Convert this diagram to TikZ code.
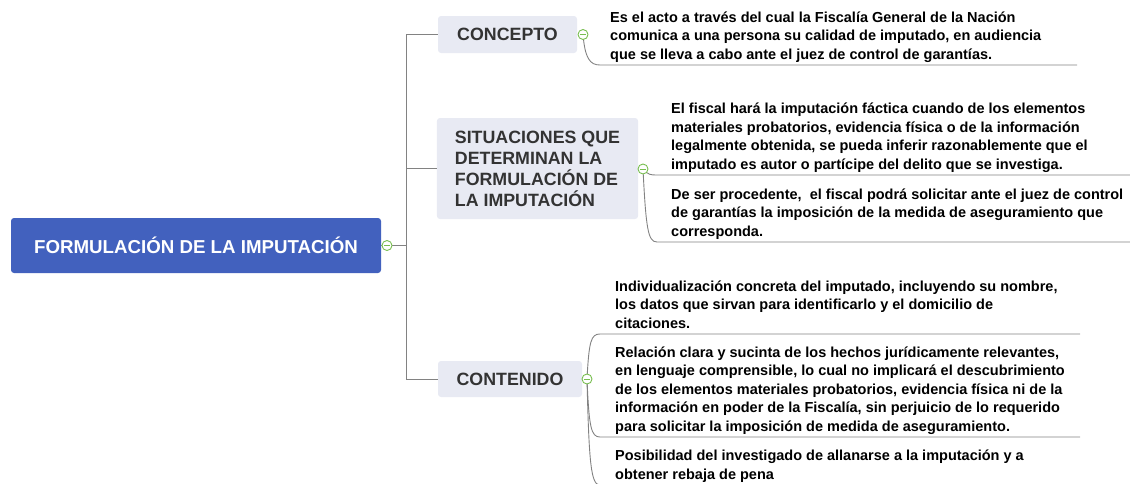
\documentclass[tikz,border=0pt]{standalone}
\usepackage{fontspec}
\setmainfont{Liberation Sans}
\definecolor{rootblue}{RGB}{66,97,190}
\definecolor{branchfill}{RGB}{232,234,243}
\definecolor{branchtext}{RGB}{51,51,51}
\definecolor{linkgray}{RGB}{130,130,130}
\definecolor{markgreen}{RGB}{120,190,80}

\begin{document}
\begin{tikzpicture}[x=1pt, y=-1pt,
    rootbox/.style={rectangle, rounded corners=3pt, fill=rootblue, text=white,
        minimum width=370, minimum height=55, font=\fontsize{18.7}{22}\selectfont\bfseries},
    branch/.style={rectangle, rounded corners=3pt, fill=branchfill, text=branchtext,
        inner xsep=18, align=left, font=\fontsize{17.8}{21}\selectfont\bfseries},
    leaf/.style={anchor=south west, inner xsep=#1, inner ysep=0, align=left,
        font=\fontsize{14.5}{18.5}\selectfont\bfseries},
    link/.style={draw=linkgray, line width=0.9pt},
    marker/.style={circle, draw=markgreen, fill=white, line width=0.9pt, inner sep=0,
        minimum size=10,
        path picture={\draw[markgreen, line width=0.9pt]
            ([xshift=-2.8]path picture bounding box.center) --
            ([xshift=2.8]path picture bounding box.center);}}]
    \useasboundingbox (0,0) rectangle (1130,483);

    \node[rootbox] (root) at (196,245.5) {FORMULACIÓN DE LA IMPUTACIÓN};
    \node[branch, minimum width=139, minimum height=37] (concepto) at (507.5,34.5) {CONCEPTO};
    \node[branch, minimum width=199, minimum height=101] (situaciones) at (537.5,168.5)
        {SITUACIONES QUE\\DETERMINAN LA\\FORMULACIÓN DE\\LA IMPUTACIÓN};
    \node[branch, minimum width=144, minimum height=36] (contenido) at (510,379) {CONTENIDO};

    \coordinate (mr) at (387,245.5);
    \coordinate (trunk) at (406,245.5);
    \coordinate (mc) at (583,34.5);
    \coordinate (ms) at (643,169);
    \coordinate (mt) at (587,379);
    \coordinate (endc) at (1077,0);
    \coordinate (ends) at (1135,0);
    \coordinate (endt) at (1080,0);

    \node[leaf=10] (concA) at (600,65)
        {Es el acto a través del cual la Fiscalía General de la Nación\\
         comunica a una persona su calidad de imputado, en audiencia\\
         que se lleva a cabo ante el juez de control de garantías.\strut};
    \node[leaf=14] (sitA) at (657,175)
        {El fiscal hará la imputación fáctica cuando de los elementos\\
         materiales probatorios, evidencia física o de la información\\
         legalmente obtenida, se pueda inferir razonablemente que el\\
         imputado es autor o partícipe del delito que se investiga.\strut};
    \node[leaf=14] (sitB) at (657,242)
        {De ser procedente,\ \ el fiscal podrá solicitar ante el juez de control\\
         de garantías la imposición de la medida de aseguramiento que\\
         corresponda.\strut};
    \node[leaf=15] (contA) at (600,334)
        {Individualización concreta del imputado, incluyendo su nombre,\\
         los datos que sirvan para identificarlo y el domicilio de\\
         citaciones.\strut};
    \node[leaf=15] (contB) at (600,437)
        {Relación clara y sucinta de los hechos jurídicamente relevantes,\\
         en lenguaje comprensible, lo cual no implicará el descubrimiento\\
         de los elementos materiales probatorios, evidencia física ni de la\\
         información en poder de la Fiscalía, sin perjuicio de lo requerido\\
         para solicitar la imposición de medida de aseguramiento.\strut};
    \node[leaf=15] (contC) at (600,485)
        {Posibilidad del investigado de allanarse a la imputación y a\\
         obtener rebaja de pena\strut};

    \draw[link] (root.east) -- (mr) -- (trunk);
    \draw[link] (concepto.west) -| (trunk);
    \draw[link] (situaciones.west) -- (situaciones.west -| trunk);
    \draw[link] (contenido.west) -| (trunk);

    \draw[link] (mc) .. controls +(2,24) and +(-10,0) .. (concA.south west) -- (concA.south west -| endc);
    \draw[link] (ms) .. controls +(5,6) and +(-6,0) .. (sitA.south west) -- (sitA.south west -| ends);
    \draw[link] (ms) .. controls +(3,60) and +(-9,0) .. (sitB.south west) -- (sitB.south west -| ends);
    \draw[link] (mt) .. controls +(2,-38) and +(-9,0) .. (contA.south west) -- (contA.south west -| endt);
    \draw[link] (mt) .. controls +(2,48) and +(-9,0) .. (contB.south west) -- (contB.south west -| endt);
    \draw[link] (mt) .. controls +(2,85) and +(-9,0) .. (contC.south west) -- (contC.south west -| endt);

    \node[marker] at (mr) {};
    \node[marker] at (mc) {};
    \node[marker] at (ms) {};
    \node[marker] at (mt) {};
\end{tikzpicture}
\end{document}
